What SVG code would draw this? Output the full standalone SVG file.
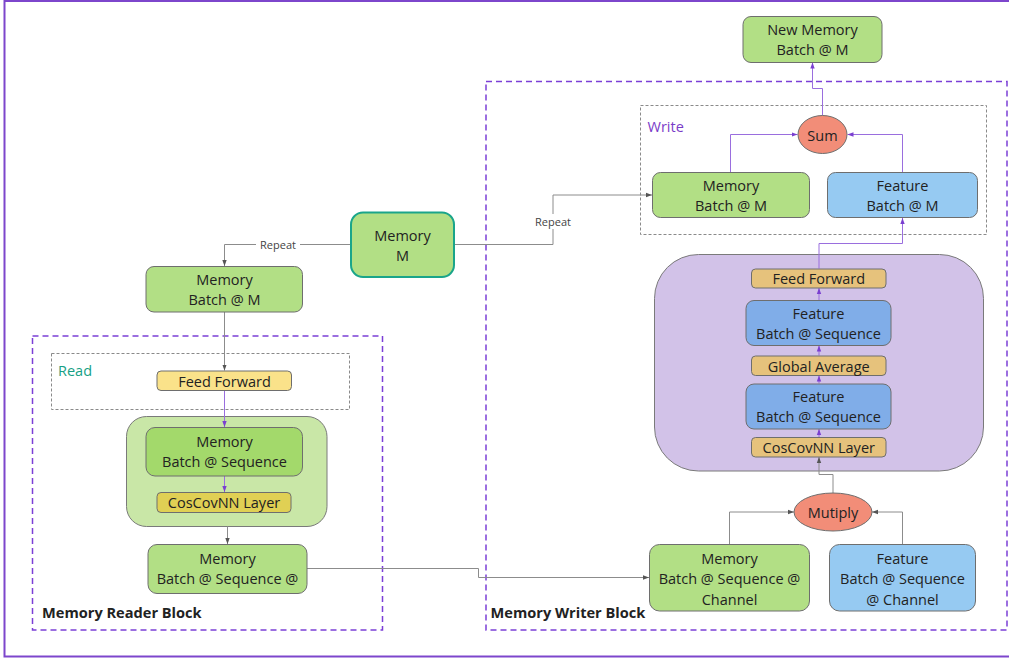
<svg xmlns="http://www.w3.org/2000/svg" width="1009" height="660" viewBox="0 0 1009 660">
  <style>
    text { font-family: "Open Sans", "Noto Sans", "Liberation Sans", sans-serif; fill: #222; }
    .lbl { font-size: 14.5px; text-anchor: middle; dominant-baseline: central; }
    .small { font-size: 11px; fill: #444; text-anchor: middle; dominant-baseline: central; }
    .block { font-size: 14.6px; font-weight: bold; dominant-baseline: central; }
    .node { stroke: #6e6e6e; stroke-width: 1; }
    .green { fill: #b2df85; }
    .green2 { fill: #a3d96b; }
    .blue { fill: #96caf2; }
    .blue2 { fill: #80ade8; }
    .orange { fill: #e6c27c; }
    .oval { fill: #f28d78; }
    .dash { fill: none; stroke: #7b3fd6; stroke-width: 1.5; stroke-dasharray: 6 4; }
    .dot { fill: none; stroke: #8a8a8a; stroke-width: 1; stroke-dasharray: 3 2; }
    .cg { fill: none; stroke: #8c8c8c; stroke-width: 1; marker-end: url(#ag); }
    .cp { fill: none; stroke: #9a6ede; stroke-width: 1; marker-end: url(#ap); }
  </style>
  <defs>
    <marker id="ag" viewBox="0 0 6 6" refX="6" refY="3" markerWidth="6" markerHeight="6" markerUnits="userSpaceOnUse" orient="auto">
      <path d="M0,0.8 L6,3 L0,5.2 Z" fill="#555"/>
    </marker>
    <marker id="ap" viewBox="0 0 6 6" refX="6" refY="3" markerWidth="6" markerHeight="6" markerUnits="userSpaceOnUse" orient="auto">
      <path d="M0,0.8 L6,3 L0,5.2 Z" fill="#7a3fd0"/>
    </marker>
  </defs>

  <!-- outer frame -->
  <rect x="4.5" y="1" width="1020" height="655.5" fill="#fff" stroke="#7d46cc" stroke-width="2"/>

  <!-- containers -->
  <g id="reader-block">
    <rect class="dash" x="32.5" y="336" width="350" height="294"/>
    <text class="block" x="42" y="611.5">Memory Reader Block</text>
  </g>
  <g id="writer-block">
    <rect class="dash" x="486" y="81.5" width="521" height="548.5"/>
    <text class="block" x="490.5" y="611.5">Memory Writer Block</text>
  </g>
  <g id="read-box">
    <rect class="dot" x="51.5" y="353.5" width="298" height="56"/>
    <text x="58" y="370" font-size="14.5" style="fill:#16a085;dominant-baseline:central">Read</text>
  </g>
  <g id="write-box">
    <rect class="dot" x="640.5" y="105.5" width="346" height="129"/>
    <text x="647.5" y="126" font-size="14.5" style="fill:#7a3cc8;dominant-baseline:central">Write</text>
  </g>
  <g id="read-group">
    <rect x="126.5" y="416.5" width="200.5" height="110" rx="20" fill="#c9e7a7" stroke="#7a7a7a" stroke-width="1"/>
  </g>
  <g id="write-group">
    <rect x="654.5" y="254.5" width="329" height="216.5" rx="44" fill="#d2c2e8" stroke="#7a7a7a" stroke-width="1"/>
  </g>

  <!-- connectors -->
  <g id="connectors">
    <path class="cg" d="M351,244.5 H224.5 V266"/>
    <path class="cg" d="M454,244.5 H553 V195 H652"/>
    <path class="cg" d="M224.5,312 V370.5"/>
    <path class="cp" d="M224.5,390.5 V427"/>
    <path class="cp" d="M224.5,476 V492"/>
    <path class="cg" d="M227.5,526.5 V544"/>
    <path class="cg" d="M307,568.5 H478.5 V577.5 H649"/>
    <path class="cg" d="M729.5,544 V512 H794"/>
    <path class="cg" d="M902.5,544 V512 H872"/>
    <path class="cg" d="M833,493 V474.5 H819 V457"/>
    <path class="cp" d="M819,437 V429"/>
    <path class="cp" d="M819,383.5 V375.5"/>
    <path class="cp" d="M819,355.5 V345.5"/>
    <path class="cp" d="M819,300 V288"/>
    <path class="cp" d="M819,268.5 V243.5 H902.5 V218"/>
    <path class="cp" d="M730.5,172 V134.5 H797.5"/>
    <path class="cp" d="M902.5,172 V134.5 H847.5"/>
    <path class="cp" d="M822.5,115.5 V88.5 H812.5 V62.5"/>
    <rect x="256" y="237" width="44" height="15" fill="#fff"/>
    <text class="small" x="278" y="244.5">Repeat</text>
    <rect x="532" y="214" width="43" height="15" fill="#fff"/>
    <text class="small" x="553" y="221.5">Repeat</text>
  </g>

  <!-- nodes -->
  <g id="memory-m">
    <rect x="351" y="212.5" width="103" height="64.5" rx="12" fill="#b2df85" stroke="#1aa58a" stroke-width="2"/>
    <text class="lbl" x="402.5" y="235">Memory</text>
    <text class="lbl" x="402.5" y="255">M</text>
  </g>
  <g id="read-memory-batch-m">
    <rect class="node green" x="146" y="266.5" width="156.5" height="45.5" rx="8"/>
    <text class="lbl" x="224.5" y="279">Memory</text>
    <text class="lbl" x="224.5" y="299">Batch @ M</text>
  </g>
  <g id="read-feed-forward">
    <rect class="node" x="157" y="371" width="134.5" height="19.5" rx="4" fill="#fae28a"/>
    <text class="lbl" x="224.5" y="381">Feed Forward</text>
  </g>
  <g id="read-memory-batch-seq">
    <rect class="node green2" x="146" y="427.5" width="156.5" height="48.5" rx="9"/>
    <text class="lbl" x="224.5" y="441">Memory</text>
    <text class="lbl" x="224.5" y="461">Batch @ Sequence</text>
  </g>
  <g id="read-coscovnn">
    <rect class="node" x="157" y="492.5" width="134" height="20" rx="4" fill="#e0d054"/>
    <text class="lbl" x="224" y="502.5">CosCovNN Layer</text>
  </g>
  <g id="read-output">
    <rect class="node green" x="148" y="544.5" width="159" height="49" rx="9"/>
    <text class="lbl" x="227.5" y="558">Memory</text>
    <text class="lbl" x="227.5" y="578">Batch @ Sequence @</text>
  </g>

  <g id="new-memory">
    <rect class="node green" x="743" y="16.5" width="139" height="46" rx="8"/>
    <text class="lbl" x="812.5" y="29">New Memory</text>
    <text class="lbl" x="812.5" y="49.5">Batch @ M</text>
  </g>
  <g id="sum">
    <ellipse class="node oval" cx="822.5" cy="134.5" rx="24.5" ry="19"/>
    <text class="lbl" x="822.5" y="135">Sum</text>
  </g>
  <g id="write-memory-batch-m">
    <rect class="node green" x="652.5" y="172.5" width="157" height="45" rx="8"/>
    <text class="lbl" x="731" y="185">Memory</text>
    <text class="lbl" x="731" y="205">Batch @ M</text>
  </g>
  <g id="write-feature-batch-m">
    <rect class="node blue" x="827.5" y="172.5" width="150" height="45" rx="8"/>
    <text class="lbl" x="902.5" y="185">Feature</text>
    <text class="lbl" x="902.5" y="205">Batch @ M</text>
  </g>
  <g id="write-feed-forward">
    <rect class="node orange" x="751.5" y="269" width="134.5" height="19" rx="4"/>
    <text class="lbl" x="818.75" y="278.5">Feed Forward</text>
  </g>
  <g id="feature-seq-top">
    <rect class="node blue2" x="746" y="300.5" width="145" height="45" rx="8"/>
    <text class="lbl" x="818.5" y="313">Feature</text>
    <text class="lbl" x="818.5" y="333">Batch @ Sequence</text>
  </g>
  <g id="global-average">
    <rect class="node orange" x="751.5" y="356" width="134.5" height="19.5" rx="4"/>
    <text class="lbl" x="818.75" y="366">Global Average</text>
  </g>
  <g id="feature-seq-bottom">
    <rect class="node blue2" x="746" y="384" width="145" height="45" rx="8"/>
    <text class="lbl" x="818.5" y="396">Feature</text>
    <text class="lbl" x="818.5" y="416.5">Batch @ Sequence</text>
  </g>
  <g id="write-coscovnn">
    <rect class="node orange" x="751.5" y="437.5" width="134.5" height="19.5" rx="4"/>
    <text class="lbl" x="818.75" y="447.5">CosCovNN Layer</text>
  </g>
  <g id="mutiply">
    <ellipse class="node oval" cx="833" cy="512" rx="39" ry="19"/>
    <text class="lbl" x="833" y="512.5">Mutiply</text>
  </g>
  <g id="write-memory-seq-channel">
    <rect class="node green" x="649.5" y="544.5" width="160" height="66.5" rx="10"/>
    <text class="lbl" x="729.5" y="558">Memory</text>
    <text class="lbl" x="729.5" y="578.5">Batch @ Sequence @</text>
    <text class="lbl" x="729.5" y="599">Channel</text>
  </g>
  <g id="write-feature-seq-channel">
    <rect class="node blue" x="829.5" y="544.5" width="146" height="66.5" rx="10"/>
    <text class="lbl" x="902.5" y="558">Feature</text>
    <text class="lbl" x="902.5" y="578.5">Batch @ Sequence</text>
    <text class="lbl" x="902.5" y="599">@ Channel</text>
  </g>
</svg>
